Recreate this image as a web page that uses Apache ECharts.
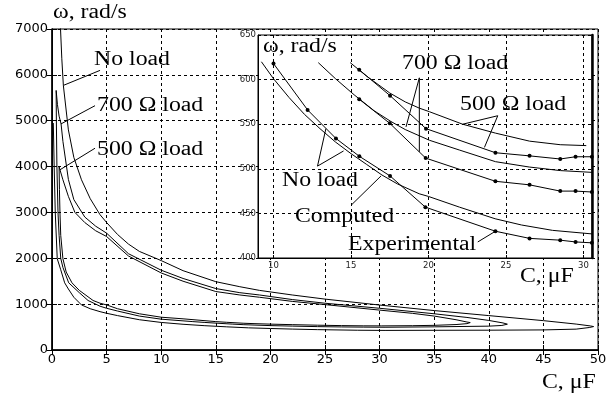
<!DOCTYPE html>
<html>
<head>
<meta charset="utf-8">
<script src="https://cdn.jsdelivr.net/npm/echarts@6/dist/echarts.min.js"></script>
<style>
  html, body { margin: 0; padding: 0; background: #fff; }
  #chart { width: 615px; height: 399px; }
</style>
</head>
<body>
<div id="chart"></div>
<script>
// main plot: omega vs C, each curve is a hairpin (upper branch -> tip -> lower branch)
const noLoadMain = [[0.7,7700],[0.78,7000],[0.9,6350],[1.04,5770],[1.5,4800],[2,4200],[2.7,3712],[3.5,3300],[4.4,2950],[5,2780],[6,2520],[7,2310],[8,2150],[10,1950],[12,1730],[15,1490],[17.2,1380],[19,1300],[22,1200],[25,1110],[30,980],[35,860],[40,750],[45,640],[48,565],[49.3,525],[49.6,511],[49.2,490],[48,455],[45,438],[40,432],[35,430],[30.5,427],[28,431],[24.3,444],[22,456],[20,469],[18,483],[16,505],[14,530],[12,561],[10,601],[8,660],[6,750],[5,801],[4.4,836],[3.5,900],[2.7,983],[2,1150],[1.5,1330],[1.16,1465],[0.8,1750],[0.48,1990],[0.3,2990],[0.2,4000],[0.12,4950]];
const load700Main = [[0.38,5660],[0.5,5350],[0.65,5100],[0.83,4930],[1,4550],[1.5,3720],[2,3280],[3,2900],[4,2700],[5,2548],[7,2100],[10,1740],[12,1560],[15,1340],[17.2,1250],[19,1200],[22,1100],[25,1020],[30,910],[35,790],[38,710],[40,645],[41.3,590],[41.7,563],[41.2,535],[40,520],[35,505],[30.5,496],[28.5,499],[26.5,503],[24.3,510],[22,521],[20,532],[18.5,544],[17.5,553],[16.5,565],[15.2,583],[14,601],[12.9,619],[10,672],[8,740],[6,850],[5,910],[4.4,955],[3.3,1080],[2.5,1250],[1.53,1465],[1,1800],[0.8,2000],[0.65,2500],[0.55,3000],[0.45,4000],[0.4,5000],[0.38,5660]];
const load500Main = [[0.65,4000],[0.73,3930],[1,3712],[1.5,3350],[2.1,3000],[3,2780],[4,2600],[5,2475],[7,2050],[10,1680],[12,1500],[15,1275],[17.2,1200],[19,1150],[22,1060],[25,990],[30,870],[33,800],[35,740],[37,660],[38,610],[38.3,598],[38,575],[37,555],[35,538],[33,530],[30.2,526],[28.5,527],[26.5,532],[24.3,541],[22,553],[20,564],[18.5,575],[17.5,584],[16,604],[15,619],[12,680],[10,715],[8,790],[6,900],[5,983],[4.4,1020],[3.76,1080],[2.5,1300],[1.83,1465],[1.3,1700],[1,1990],[0.8,2500],[0.73,2990],[0.68,3500],[0.65,4000]];

// inset: computed (lines) and experimental (dots)
const noLoadComputed = [[9.22,620],[10,601],[11,580],[12,561],[13,545],[14,530],[15,517],[16,505],[17,493],[18,483],[19.4,472],[20,469],[22,457],[24.3,444],[26,437],[28,431],[30.55,427]];
const noLoadExperimental = [[10,618],[12.2,566],[14.03,534],[15.54,514],[17.52,492],[19.8,457],[24.32,430],[26.52,422],[28.5,420],[29.49,418],[30.54,417]];
const load700Computed = [[12.89,619],[14,601],[15.2,583],[16.5,565],[17.58,553],[18.5,544],[20.06,532],[22,521],[24.32,508],[26.5,502],[28.5,498],[30.55,496]];
const load700Experimental = [[15.53,578],[17.5,551],[19.82,512],[24.32,486],[26.52,482],[28.5,475],[29.49,475],[30.54,474]];
const load500Computed = [[14.95,619],[16,604],[17.5,585],[18.5,575],[19.41,568],[20.06,564],[22.2,550],[24.32,540],[26.52,531],[28.5,527],[30.18,526]];
const load500Experimental = [[15.53,611],[17.52,582],[19.84,545],[24.32,518],[26.52,514.5],[28.5,511],[29.49,513.5],[30.54,513.5]];

// tick labels
const insetXTicks = [10, 15, 20, 25, 30];

// leader lines of the annotations, in data units
const mainLeaders = [[[4.4,6098],[1.04,5770]], [[3.94,5328],[0.82,4930]], [[3.94,4400],[0.73,3930]]];
const insetLeaders = [[[19.41,602],[19.41,519]], [[19.41,602],[18.55,547]], [[24.47,559.5],[22.21,550]], [[24.47,559.5],[23.61,524]], [[12.84,503],[13.38,545]], [[12.84,503],[14.52,520]], [[15,459],[16.94,492]], [[23.18,418],[24.32,430]]];

const chart = echarts.init(document.getElementById('chart'));
const serif = '"Liberation Serif", "Times New Roman", serif';
const black = '#000';
const dashed = { show: true, lineStyle: { color: black, width: 1, type: [3, 3] } };

function curve(data, xi, yi, z, dots) {
  return {
    type: 'line', data: data, xAxisIndex: xi, yAxisIndex: yi, z: z,
    showSymbol: !!dots, symbol: 'circle', symbolSize: 4,
    itemStyle: { color: black }, lineStyle: { color: black, width: 1 },
    silent: true
  };
}
function label(text, x, y) {
  return { type: 'text', x: x, y: y, scaleX: 1.19, z: 50,
    style: { text: text, font: '20px ' + serif, fill: black, verticalAlign: 'middle' } };
}

const series = [
  curve(noLoadMain, 0, 0, 2),
  curve(load700Main, 0, 0, 2),
  curve(load500Main, 0, 0, 2),
  curve(noLoadComputed, 2, 2, 20),
  curve(noLoadExperimental, 2, 2, 20, true),
  curve(load700Computed, 2, 2, 20),
  curve(load700Experimental, 2, 2, 20, true),
  curve(load500Computed, 2, 2, 20),
  curve(load500Experimental, 2, 2, 20, true)
];
mainLeaders.forEach(p => series.push(curve(p, 0, 0, 3)));
insetLeaders.forEach(p => series.push(curve(p, 2, 2, 21)));

chart.setOption({
  animation: false,
  backgroundColor: '#fff',
  grid: [
    { left: 52, top: 29, right: 17, bottom: 49, show: true, borderColor: black, borderWidth: 1, outerBoundsMode: 'none' },
    { left: 258, top: 35, right: 23, bottom: 141, show: true, backgroundColor: '#fff', borderColor: black, borderWidth: 1, z: 10, outerBoundsMode: 'none' }
  ],
  xAxis: [
    { gridIndex: 0, type: 'value', min: 0, max: 50, interval: 5,
      axisLine: { lineStyle: { color: black, width: 1.5 } },
      axisTick: { inside: true, length: 5, lineStyle: { color: black } },
      axisLabel: { color: black, fontSize: 13, fontFamily: 'DejaVu Sans', margin: 3 },
      splitLine: dashed },
    { gridIndex: 0, type: 'value', position: 'top', min: 0, max: 50, interval: 5,
      axisLine: { lineStyle: { color: black } },
      axisTick: { inside: true, length: 5, lineStyle: { color: black } },
      axisLabel: { show: false }, splitLine: { show: false } },
    { gridIndex: 1, type: 'value', min: 9, max: 30.55, z: 15,
      axisLine: { lineStyle: { color: black } },
      axisTick: { inside: true, length: 3, customValues: insetXTicks, lineStyle: { color: black } },
      axisLabel: { color: '#222', fontSize: 8.5, fontFamily: 'DejaVu Sans', margin: 3, customValues: insetXTicks },
      splitLine: dashed }
  ],
  yAxis: [
    { gridIndex: 0, type: 'value', min: 0, max: 7000, interval: 1000,
      axisLine: { lineStyle: { color: black, width: 1.5 } },
      axisTick: { inside: true, length: 5, lineStyle: { color: black } },
      axisLabel: { color: black, fontSize: 13, fontFamily: 'DejaVu Sans', margin: 4, formatter: v => String(v) },
      splitLine: dashed },
    { gridIndex: 0, type: 'value', position: 'right', min: 0, max: 7000, interval: 1000,
      axisLine: { lineStyle: { color: black } },
      axisTick: { inside: true, length: 5, lineStyle: { color: black } },
      axisLabel: { show: false }, splitLine: { show: false } },
    { gridIndex: 1, type: 'value', min: 400, max: 650, interval: 50, z: 15,
      axisLine: { lineStyle: { color: black } },
      axisTick: { inside: true, length: 3, lineStyle: { color: black } },
      axisLabel: { color: '#222', fontSize: 8.5, fontFamily: 'DejaVu Sans', margin: 2 },
      splitLine: dashed },
    { gridIndex: 1, type: 'value', position: 'right', min: 400, max: 650, z: 15,
      axisLine: { lineStyle: { color: black, width: 2.5 } },
      axisTick: { show: false }, axisLabel: { show: false }, splitLine: { show: false } }
  ],
  series: series,
  graphic: { elements: [
    label('ω, rad/s', 53, 13),
    label('No load', 94, 60),
    label('700 Ω load', 97, 106),
    label('500 Ω load', 97, 150),
    label('C, μF', 542, 383),
    label('ω, rad/s', 263, 47),
    label('700 Ω load', 402, 64),
    label('500 Ω load', 460, 105),
    label('No load', 282, 181),
    label('Computed', 295, 217),
    label('Experimental', 348, 245),
    label('C, μF', 520, 277)
  ] }
});
</script>
</body>
</html>
